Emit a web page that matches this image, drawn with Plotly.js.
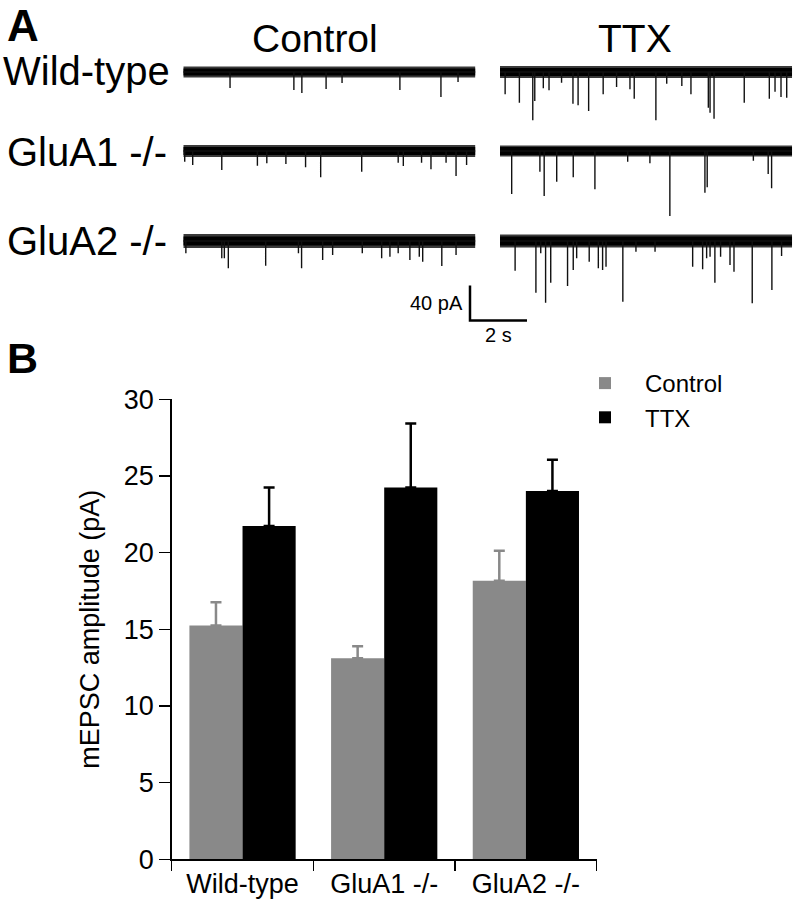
<!DOCTYPE html>
<html>
<head>
<meta charset="utf-8">
<script src="https://cdn.plot.ly/plotly-3.0.1.min.js"></script>
<style>html,body{margin:0;padding:0;background:#fff;}#chart{width:795px;height:900px;}</style>
</head>
<body>
<div id="chart"></div>
<script>
// ---------- Panel B data ----------
const groups = ['Wild-type', 'GluA1 -/-', 'GluA2 -/-'];
const controlMean = [15.24, 13.11, 18.17];
const controlSem  = [1.52, 0.78, 1.96];
const ttxMean     = [21.74, 24.24, 24.02];
const ttxSem      = [2.50, 4.18, 2.03];

// ---------- Panel A data (event time in s, amplitude in pA) ----------
const traceDuration = 10.25;          // s
const scaleBarTime = 2;               // s
const scaleBarAmp = 40;               // pA

const wtCtrlT   = [1.64, 3.88, 4.16, 5.01, 5.57, 7.60, 9.04, 9.64];
const wtCtrlA   = [18.3, 20.6, 24.0, 19.4, 12.6, 20.6, 28.6, 11.4];

const wtTtxT    = [0.18, 0.68, 1.15, 1.22, 1.52, 1.72, 2.16, 2.56, 2.74, 3.11, 3.62, 4.09, 4.56, 4.71, 5.47, 5.85, 6.38, 6.70, 7.31, 7.37, 7.51, 8.57, 9.45, 9.65, 9.86, 10.06];
const wtTtxA    = [25.5, 35.1, 55.2, 33.1, 18.6, 20.9, 12.2, 36.2, 38.1, 44.6, 25.5, 17.1, 19.8, 30.5, 55.2, 13.4, 16.0, 25.5, 40.8, 46.5, 53.4, 35.1, 30.5, 22.5, 28.6, 29.4];

const a1CtrlT   = [0.05, 0.33, 1.35, 2.60, 2.93, 3.60, 4.29, 4.82, 6.26, 7.54, 7.72, 8.36, 8.69, 9.22, 9.57, 9.94];
const a1CtrlA   = [12.2, 16.0, 21.7, 16.8, 14.1, 14.9, 18.6, 30.1, 23.7, 13.4, 17.1, 13.4, 20.9, 13.4, 28.6, 16.0];

const a1TtxT    = [0.41, 1.40, 1.55, 1.99, 2.57, 3.33, 4.48, 5.26, 5.96, 7.19, 7.27, 8.89, 9.41, 9.53];
const a1TtxA    = [49.1, 23.7, 51.4, 35.1, 30.1, 43.8, 12.2, 14.1, 74.3, 47.7, 41.5, 11.1, 26.3, 42.6];

const a2CtrlT   = [0.09, 1.35, 1.44, 1.58, 2.89, 4.04, 4.15, 4.89, 5.24, 6.28, 6.96, 7.25, 7.54, 7.95, 8.28, 8.40, 9.07, 9.57];
const a2CtrlA   = [14.1, 19.8, 19.8, 31.2, 28.2, 14.1, 31.2, 21.7, 16.0, 14.1, 19.8, 17.9, 14.1, 21.7, 17.9, 23.7, 28.6, 16.0];

const a2TtxT    = [0.53, 1.26, 1.43, 1.60, 1.78, 2.37, 2.57, 2.69, 3.13, 3.45, 3.60, 3.72, 4.31, 4.77, 5.44, 6.76, 7.11, 7.25, 7.37, 7.54, 7.74, 8.07, 8.21, 8.85, 9.54, 9.88];
const a2TtxA    = [33.9, 59.1, 14.1, 70.5, 47.7, 51.4, 33.1, 19.8, 23.7, 31.2, 33.1, 29.4, 69.4, 12.2, 12.2, 29.4, 32.3, 19.8, 17.9, 47.7, 17.9, 27.4, 35.1, 71.2, 56.0, 17.1];

// ---------- layout helpers (pixel geometry) ----------
const W = 795, H = 900;
const fx = px => px / W;
const fy = py => 1 - py / H;
const pxPerS = 28.5, pxPerPA = 0.875;
const ctrlLeft = 183.3, ttxLeft = 500;
const rowBase = [72, 151, 241];
const yTopPA = 15, yBotPA = -80;

function rowDomain(base) {
  return [fy(base - yBotPA * pxPerPA), fy(base - yTopPA * pxPerPA)];
}
function colDomain(left) {
  return [fx(left), fx(left + traceDuration * pxPerS)];
}

function spikeTrace(times, amps, xa, ya) {
  const x = [0], y = [0];
  times.forEach((t, i) => { x.push(t, t, t); y.push(0, -amps[i], 0); });
  x.push(traceDuration); y.push(0);
  return {x, y, xaxis: xa, yaxis: ya, type: 'scatter', mode: 'lines',
          line: {color: '#111', width: 1.4}, showlegend: false, hoverinfo: 'skip'};
}
// noise band: soft outer fringe + dense core
function baseTraces(xa, ya, outer, inner) {
  const common = {x: [0, traceDuration], y: [0, 0], xaxis: xa, yaxis: ya, type: 'scatter',
                  mode: 'lines', showlegend: false, hoverinfo: 'skip'};
  return [Object.assign({line: {color: '#3a3a3a', width: outer}}, common),
          Object.assign({line: {color: '#000', width: inner}}, common)];
}

const traces = [].concat(
  baseTraces('x2', 'y2', 11, 7), [spikeTrace(wtCtrlT, wtCtrlA, 'x2', 'y2')],
  baseTraces('x3', 'y2', 12, 8), [spikeTrace(wtTtxT, wtTtxA, 'x3', 'y2')],
  baseTraces('x2', 'y3', 12, 8), [spikeTrace(a1CtrlT, a1CtrlA, 'x2', 'y3')],
  baseTraces('x3', 'y3', 11, 8), [spikeTrace(a1TtxT, a1TtxA, 'x3', 'y3')],
  baseTraces('x2', 'y4', 14, 9), [spikeTrace(a2CtrlT, a2CtrlA, 'x2', 'y4')],
  baseTraces('x3', 'y4', 13, 9), [spikeTrace(a2TtxT, a2TtxA, 'x3', 'y4')],
  [{x: [0, 0, scaleBarTime], y: [scaleBarAmp, 0, 0], xaxis: 'x4', yaxis: 'y5', type: 'scatter',
    mode: 'lines', line: {color: '#000', width: 2.5}, showlegend: false, hoverinfo: 'skip'},
   {type: 'bar', name: 'Control', x: groups, y: controlMean, marker: {color: '#898989'},
    error_y: {type: 'data', array: controlSem, symmetric: false, arrayminus: [0, 0, 0],
              color: '#898989', thickness: 2.5, width: 5.5}},
   {type: 'bar', name: 'TTX', x: groups, y: ttxMean, marker: {color: '#000000'},
    error_y: {type: 'data', array: ttxSem, symmetric: false, arrayminus: [0, 0, 0],
              color: '#000000', thickness: 2.5, width: 5.5}}]
);

const FONT = 'Liberation Sans, Arial, sans-serif';
const hidden = {visible: false, fixedrange: true};
const sbLeft = 470, sbBottom = 320.5;

const layout = {
  width: W, height: H,
  margin: {l: 0, r: 0, t: 0, b: 0, pad: 0},
  paper_bgcolor: '#fff', plot_bgcolor: 'rgba(0,0,0,0)',
  font: {family: FONT, color: '#000', size: 26},
  barmode: 'group', bargap: 0.25, bargroupgap: 0,
  showlegend: true,
  legend: {x: fx(565), y: fy(361), xanchor: 'left', yanchor: 'top', itemwidth: 70,
           font: {size: 24, family: FONT}, bgcolor: 'rgba(0,0,0,0)', traceorder: 'normal'},
  xaxis: {domain: [fx(171.7), fx(596.7)], anchor: 'y', type: 'category', range: [-0.5, 2.5],
          showline: true, linecolor: '#000', linewidth: 1.5, ticks: 'outside', tickson: 'boundaries',
          ticklen: 10, tickwidth: 1.5, tickcolor: '#000', showgrid: false, zeroline: false,
          tickfont: {size: 27}, automargin: false, fixedrange: true},
  yaxis: {domain: [fy(859.3), fy(399.3)], anchor: 'x', range: [0, 30], dtick: 5,
          showline: true, linecolor: '#000', linewidth: 1.5, ticks: 'outside', ticklen: 11,
          tickwidth: 1.5, tickcolor: '#000', showgrid: false, zeroline: false,
          tickfont: {size: 27}, automargin: false, fixedrange: true,
          title: {text: 'mEPSC amplitude (pA)', font: {size: 27}, standoff: 16}},
  xaxis2: Object.assign({domain: colDomain(ctrlLeft), range: [0, traceDuration], anchor: 'y2'}, hidden),
  xaxis3: Object.assign({domain: colDomain(ttxLeft), range: [0, traceDuration], anchor: 'y2'}, hidden),
  yaxis2: Object.assign({domain: rowDomain(rowBase[0]), range: [yBotPA, yTopPA], anchor: 'x2'}, hidden),
  yaxis3: Object.assign({domain: rowDomain(rowBase[1]), range: [yBotPA, yTopPA], anchor: 'x2'}, hidden),
  yaxis4: Object.assign({domain: rowDomain(rowBase[2]), range: [yBotPA, yTopPA], anchor: 'x2'}, hidden),
  xaxis4: Object.assign({domain: [fx(sbLeft - 0.2 * pxPerS), fx(sbLeft + 2.2 * pxPerS)], range: [-0.2, 2.2], anchor: 'y5'}, hidden),
  yaxis5: Object.assign({domain: [fy(sbBottom + 4 * pxPerPA), fy(sbBottom - 44 * pxPerPA)], range: [-4, 44], anchor: 'x4'}, hidden),
  annotations: [
    {text: '<b>A</b>', xref: 'paper', yref: 'paper', x: fx(5), y: fy(25), xanchor: 'left', yanchor: 'middle', showarrow: false, font: {size: 44}},
    {text: '<b>B</b>', xref: 'paper', yref: 'paper', x: fx(5), y: fy(358), xanchor: 'left', yanchor: 'middle', showarrow: false, font: {size: 43}},
    {text: 'Control', xref: 'paper', yref: 'paper', x: fx(315), y: fy(38), xanchor: 'center', yanchor: 'middle', showarrow: false, font: {size: 39}},
    {text: 'TTX', xref: 'paper', yref: 'paper', x: fx(635), y: fy(38), xanchor: 'center', yanchor: 'middle', showarrow: false, font: {size: 39}},
    {text: 'Wild-type', xref: 'paper', yref: 'paper', x: fx(1), y: fy(71), xanchor: 'left', yanchor: 'middle', showarrow: false, font: {size: 40}},
    {text: 'GluA1 -/-', xref: 'paper', yref: 'paper', x: fx(5), y: fy(152), xanchor: 'left', yanchor: 'middle', showarrow: false, font: {size: 40}},
    {text: 'GluA2 -/-', xref: 'paper', yref: 'paper', x: fx(5), y: fy(241), xanchor: 'left', yanchor: 'middle', showarrow: false, font: {size: 40}},
    {text: scaleBarAmp + ' pA', xref: 'x4', yref: 'y5', x: 0, y: scaleBarAmp / 2, xanchor: 'right', yanchor: 'middle', xshift: -5, showarrow: false, font: {size: 20}},
    {text: scaleBarTime + ' s', xref: 'x4', yref: 'y5', x: scaleBarTime / 2, y: 0, xanchor: 'center', yanchor: 'top', yshift: -1, showarrow: false, font: {size: 20}}
  ]
};

Plotly.newPlot('chart', traces, layout, {staticPlot: true, displayModeBar: false});
</script>
</body>
</html>
